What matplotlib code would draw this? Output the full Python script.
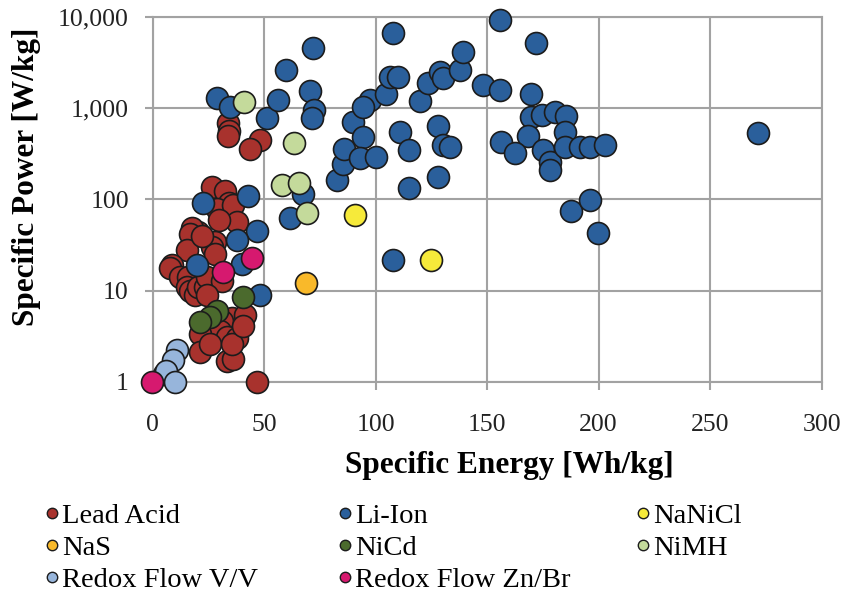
import matplotlib
matplotlib.use("Agg")
import matplotlib.pyplot as plt
from matplotlib.lines import Line2D

# ---------------- data ----------------
series_names = ["Lead Acid", "Li-Ion", "NaNiCl", "NaS", "NiCd", "NiMH",
                "Redox Flow V/V", "Redox Flow Zn/Br"]

lead_x = [34, 34.5, 34, 48, 43.5,
          26.5, 32.5, 34.5, 29, 36, 37.7, 20.5, 17.5, 16.8, 28, 15.3, 26.5, 28,
          8.6, 7.8, 12.3, 16, 15.3, 16.8, 19, 20.5, 23.5, 24.3, 31, 24.3, 30, 22,
          35.5, 41.4, 31, 22, 27.2, 30.2, 33.2, 37.7, 21.3, 21.3, 33.2, 36.2,
          25.8, 35.5, 40.7, 46.7]
lead_y = [680, 560, 490, 450, 360,
          135, 122, 92, 78, 87, 56, 44, 48, 42, 34, 28, 30, 25,
          19, 17.5, 14, 14, 11, 10, 9, 11, 11, 14, 12.6, 9, 60, 40,
          5, 5.4, 4.6, 3.6, 3.6, 3.6, 3.1, 3.0, 3.3, 2.14, 1.7, 1.76,
          2.6, 2.6, 4.1, 1.0]

li_x = [28.8, 34.7, 51.2, 56.4, 59.7, 70.6, 72.5, 71.3, 71.8,
        42.9, 22.8, 46.7, 37.7, 40, 19.8, 48.2, 61.6, 67.6,
        82.5, 85.5, 85.8, 90, 94.5, 93.2, 100.4, 97.4, 94.5,
        104.9, 106.4, 110.1, 107.9, 119.8, 123.6, 128.8, 130.3, 137.8, 139.3,
        110.9, 115.1, 114.8, 128, 130.3, 133.3, 128, 107.9,
        148.2, 155.7, 155.7, 171.7, 169.9, 169.9, 174.6, 180.3, 185.2, 184.8,
        168.4, 156.4, 162.6, 175.1, 178.1, 178.1, 184.8, 191.5, 196, 202.7,
        187.8, 196, 199.7, 271.4]
li_y = [1290, 1040, 790, 1230, 2620, 1560, 950, 780, 4540,
        110, 91, 45, 36, 19.5, 19, 9, 62, 115,
        163, 245, 355, 711, 487, 282, 294, 1230, 1040,
        1420, 2210, 2210, 6630, 1200, 1875, 2512, 2128, 2650, 4168,
        553, 348, 132, 640, 395, 378, 177, 21.7,
        1796, 1585, 9270, 5150, 1420, 807, 840, 900, 825, 553,
        500, 430, 320, 348, 255, 210, 378, 378, 378, 395,
        75, 98, 42.5, 531]

nanicl_x = [90.7, 124.8]
nanicl_y = [67.5, 21.7]

nas_x = [68.8]
nas_y = [12.0]

nicd_x = [40.7, 28.8, 26.0, 21.3]
nicd_y = [8.4, 5.9, 5.1, 4.5]

nimh_x = [41.0, 63.4, 57.9, 65.7, 69.1]
nimh_y = [1180, 412, 143, 150, 70.4]

vv_x = [10.8, 9.3, 5.0, 6.0, 10.1]
vv_y = [2.25, 1.75, 1.2, 1.3, 1.0]

znbr_x = [-0.4, 31.7, 44.7]
znbr_y = [1.0, 16.0, 22.8]

x_ticks = [0, 50, 100, 150, 200, 250, 300]
y_ticks = [1, 10, 100, 1000, 10000]
y_tick_labels = ["1", "10", "100", "1,000", "10,000"]

colors = ["#A8322D", "#2A5F9B", "#F6EA3A", "#F9B92A", "#4B6A2D",
          "#C4DA9B", "#97B5DB", "#D6196F"]

# ---------------- figure ----------------
plt.rcParams['font.family'] = ['Liberation Serif', 'DejaVu Serif']
W, H = 850, 600
fig = plt.figure(figsize=(8.5, 6), dpi=100)
left, right, top, bottom = 152.5, 821.7, 17.0, 381.7
ax = fig.add_axes([left / W, 1 - bottom / H, (right - left) / W, (bottom - top) / H])

grid_c = "#a2a2a2"
ax.set_yscale("log")
ax.set_xlim(0, 300)
ax.set_ylim(1, 10000)

all_series = [(lead_x, lead_y), (li_x, li_y), (nanicl_x, nanicl_y), (nas_x, nas_y),
              (nicd_x, nicd_y), (nimh_x, nimh_y), (vv_x, vv_y), (znbr_x, znbr_y)]
for i, ((xs, ys), c) in enumerate(zip(all_series, colors)):
    ax.scatter(xs, ys, s=250, color=c, edgecolors="#1c1c1c", linewidths=1.2,
               clip_on=False, zorder=3 + i)

ax.set_xticks(x_ticks)
ax.set_yticks(y_ticks)
ax.set_yticklabels(y_tick_labels)
ax.yaxis.set_minor_locator(matplotlib.ticker.NullLocator())
ax.grid(True, color=grid_c, lw=1.5)
ax.set_axisbelow(True)
for sp in ax.spines.values():
    sp.set_color(grid_c)
    sp.set_linewidth(1.5)
ax.tick_params(axis="both", direction="out", length=6, width=1.5, color=grid_c,
               labelsize=18.5, labelcolor="#222222")
ax.tick_params(axis="x", pad=17)
ax.tick_params(axis="y", pad=11)

ax.set_xlabel("Specific Energy [Wh/kg]", fontsize=22.5, fontweight="bold", va="center")
ax.xaxis.set_label_coords((509 - left) / (right - left), (bottom - 466) / (bottom - top))
ax.set_ylabel("Specific Power [W/kg]", fontsize=22.5, fontweight="bold", va="center")
ax.yaxis.set_label_coords((27 - left) / (right - left), (bottom - 176.5) / (bottom - top))

# ---------------- legend (three columns) ----------------
handles = [Line2D([], [], ls="none", marker="o", markersize=7.5, markerfacecolor=c,
                  markeredgecolor="#1c1c1c", markeredgewidth=1.0) for c in colors]
columns = [[0, 3, 6], [1, 4, 7], [2, 5]]
col_x = [45, 338, 636]
for cx, idx in zip(col_x, columns):
    fig.legend([handles[k] for k in idx], [series_names[k] for k in idx],
               loc="upper left", bbox_to_anchor=(cx / W, 1 - 503 / H),
               frameon=False, fontsize=20.5, handlelength=0.5, handletextpad=0.1,
               borderpad=0, borderaxespad=0, labelspacing=0.22)

fig.savefig("out.png", dpi=100)
